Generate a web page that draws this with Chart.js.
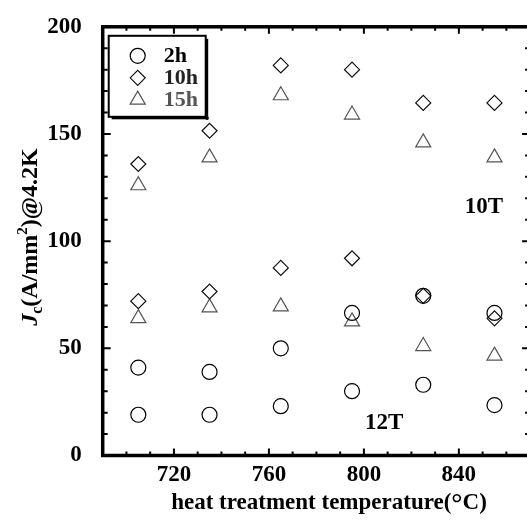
<!DOCTYPE html>
<html>
<head>
<meta charset="utf-8">
<script src="https://cdn.jsdelivr.net/npm/chart.js@4.4.1/dist/chart.umd.min.js"></script>
<style>
  html, body { margin: 0; padding: 0; background: #fff; overflow: hidden; }
  #wrap { position: relative; width: 540px; height: 521px; }
</style>
</head>
<body>
<div id="wrap"><canvas id="chart" width="540" height="521"></canvas></div>
<script>
// annealing temperatures (°C)
const temps = [705, 735, 765, 795, 825, 855];

// Jc at 4.2 K, upper group (10T) and lower group (12T)
const jc2h_10T = [41, 39, 50, 66.5, 74.5, 66.5];
const jc2h_12T = [19, 19, 23, 30, 33, 23.5];
const jc10h_10T = [136, 151.5, 182, 180, 164.5, 164.5];
const jc10h_12T = [72, 76.5, 87.5, 92, 74.5, 64];
const jc15h_10T = [126, 139, 168, 159, 146, 139];
const jc15h_12T = [64, 69, 69.5, 62.5, 51, 46.5];

const durations = ['2h', '10h', '15h'];
const xMajorLabels = [720, 760, 800, 840];
const yMajorLabels = [0, 50, 100, 150, 200];

// field labels, placed in data coordinates
const fieldLabels = ['10T', '12T'];
const fieldLabelX = [850.5, 808.5];
const fieldLabelY = [116, 15];

const FONT = '"Liberation Serif", "Times New Roman", serif';
const styles = {
    '2h':  { pointStyle: 'circle',   color: '#000', text: '#000', radius: 7.5 },
    '10h': { pointStyle: 'rectRot',  color: '#111', text: '#222', radius: 7.5 },
    '15h': { pointStyle: 'triangle', color: '#555', text: '#555', radius: 8.7 },
};

function series(label, values) {
    const s = styles[label];
    return {
        label: label,
        data: temps.map((t, i) => ({ x: t, y: values[i] })),
        showLine: false,
        pointStyle: s.pointStyle,
        pointRadius: s.radius,
        pointHoverRadius: s.radius,
        borderColor: s.color,
        backgroundColor: 'rgba(0,0,0,0)',
        pointBorderWidth: 1.2,
    };
}

// frame with inward ticks on all four sides
const frame = {
    id: 'frame',
    afterDatasetsDraw(chart) {
        const { ctx, chartArea: a, scales: { x, y } } = chart;
        ctx.save();
        ctx.strokeStyle = '#000';
        ctx.lineWidth = 2;
        ctx.beginPath();
        for (let v = 690; v <= 870; v += 10) {
            const px = x.getPixelForValue(v);
            const len = (v - 720) % 40 === 0 ? 7 : 4;
            ctx.moveTo(px, a.bottom); ctx.lineTo(px, a.bottom - len);
            ctx.moveTo(px, a.top); ctx.lineTo(px, a.top + len);
        }
        for (let v = 0; v <= 200; v += 10) {
            const py = y.getPixelForValue(v);
            const len = v % 50 === 0 ? 8 : 5;
            ctx.moveTo(a.left, py); ctx.lineTo(a.left + len, py);
            ctx.moveTo(a.right, py); ctx.lineTo(a.right - len, py);
        }
        ctx.stroke();
        ctx.lineWidth = 3.5;
        ctx.strokeRect(a.left, a.top, a.right - a.left, a.bottom - a.top);

        // field labels
        ctx.fillStyle = '#000';
        ctx.font = 'bold 23px ' + FONT;
        ctx.textAlign = 'center';
        ctx.textBaseline = 'middle';
        fieldLabels.forEach((t, i) => {
            ctx.fillText(t, x.getPixelForValue(fieldLabelX[i]), y.getPixelForValue(fieldLabelY[i]));
        });
        ctx.restore();
    }
};

// boxed legend in the upper left corner
const boxLegend = {
    id: 'boxLegend',
    afterDraw(chart) {
        const { ctx, chartArea: a } = chart;
        const bx = a.left + 6, by = a.top + 9, bw = 97, bh = 81;
        ctx.save();
        ctx.fillStyle = '#fff';
        ctx.fillRect(bx, by, bw, bh);
        ctx.strokeStyle = '#000';
        ctx.lineWidth = 2;
        ctx.strokeRect(bx, by, bw, bh);
        ctx.fillStyle = '#000';
        ctx.fillRect(bx + 3, by + bh, bw, 2.5);
        ctx.fillRect(bx + bw, by + 3, 2.5, bh);
        ctx.font = 'bold 22px ' + FONT;
        ctx.textAlign = 'left';
        ctx.textBaseline = 'middle';
        durations.forEach((d, i) => {
            const s = styles[d];
            const cy = by + 20 + i * 22;
            ctx.fillStyle = '#fff';
            ctx.strokeStyle = s.color;
            ctx.lineWidth = 1.2;
            Chart.helpers.drawPoint(ctx, { pointStyle: s.pointStyle, radius: s.radius, borderWidth: 1.2 }, bx + 29, cy);
            ctx.fillStyle = s.text;
            ctx.fillText(d, bx + 55, cy + 1);
        });
        ctx.restore();
    }
};

// axis titles (mixed italic / sub / superscript)
const axisTitles = {
    id: 'axisTitles',
    afterDraw(chart) {
        const { ctx } = chart;
        ctx.save();
        ctx.fillStyle = '#000';
        ctx.textBaseline = 'alphabetic';

        // x title
        const xParts = [
            { t: 'heat treatment temperature(', f: 'bold 23px ' + FONT, dy: 0 },
            { t: '°', f: 'bold 28px ' + FONT, dy: 3 },
            { t: 'C)', f: 'bold 23px ' + FONT, dy: 0 },
        ];
        drawParts(ctx, xParts, 329, 509);

        // y title, rotated
        ctx.translate(37, 237);
        ctx.rotate(-Math.PI / 2);
        const yParts = [
            { t: 'J', f: 'italic bold 24px ' + FONT, dy: 0 },
            { t: 'c', f: 'bold 16px ' + FONT, dy: 5 },
            { t: '(A/mm', f: 'bold 24px ' + FONT, dy: 0 },
            { t: '2', f: 'bold 15px ' + FONT, dy: -10 },
            { t: ')@4.2K', f: 'bold 24px ' + FONT, dy: 0 },
        ];
        drawParts(ctx, yParts, 0, 0);
        ctx.restore();
    }
};

function drawParts(ctx, parts, cx, baseY) {
    let total = 0;
    parts.forEach(p => { ctx.font = p.f; p.w = ctx.measureText(p.t).width; total += p.w; });
    let px = cx - total / 2;
    ctx.textAlign = 'left';
    parts.forEach(p => {
        ctx.font = p.f;
        ctx.fillText(p.t, px, baseY + p.dy);
        px += p.w;
    });
}

const config = {
    type: 'scatter',
    data: {
        datasets: [
            series('2h', jc2h_10T), series('2h', jc2h_12T),
            series('10h', jc10h_10T), series('10h', jc10h_12T),
            series('15h', jc15h_10T), series('15h', jc15h_12T),
        ],
    },
    plugins: [frame, boxLegend, axisTitles],
    options: {
        responsive: false,
        animation: false,
        layout: { padding: { left: 0, top: 23.5, right: 6.4, bottom: 0 } },
        plugins: {
            legend: { display: false },
            tooltip: { enabled: false },
        },
        scales: {
            x: {
                type: 'linear',
                min: 690,
                max: 870,
                grid: { display: false },
                border: { display: false },
                afterBuildTicks: scale => {
                    scale.ticks = xMajorLabels.map(v => ({ value: v }));
                },
                afterFit: scale => { scale.height = 65.5; },
                ticks: {
                    autoSkip: false,
                    maxRotation: 0,
                    padding: -2,
                    color: '#000',
                    font: { family: FONT, size: 23, weight: 'bold' },
                },
            },
            y: {
                min: 0,
                max: 200,
                grid: { display: false },
                border: { display: false },
                afterBuildTicks: scale => {
                    scale.ticks = yMajorLabels.map(v => ({ value: v }));
                },
                afterFit: scale => { scale.width = 102.7; },
                ticks: {
                    autoSkip: false,
                    padding: 13,
                    color: '#000',
                    font: { family: FONT, size: 23, weight: 'bold' },
                },
            },
        },
    },
};

new Chart(document.getElementById('chart'), config);
</script>
</body>
</html>
